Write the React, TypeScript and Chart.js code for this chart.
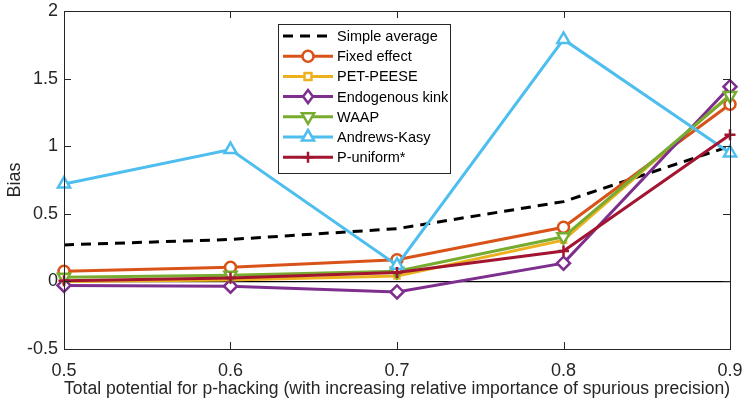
import React, { useEffect, useRef } from 'react';
import { Chart, registerables } from 'chart.js';

Chart.register(...registerables);

const xValues = [0.5, 0.6, 0.7, 0.8, 0.9];
const simpleAverage = [0.27, 0.31, 0.39, 0.59, 1.0];
const fixedEffect = [0.075, 0.105, 0.16, 0.40, 1.31];
const petPeese = [0.0, 0.01, 0.04, 0.305, 1.38];
const endogenousKink = [-0.03, -0.035, -0.078, 0.135, 1.44];
const waap = [0.03, 0.045, 0.075, 0.33, 1.375];
const andrewsKasy = [0.72, 0.975, 0.12, 1.79, 0.95];
const pUniform = [0.005, 0.025, 0.065, 0.225, 1.085];
const xTicks = [0.5, 0.6, 0.7, 0.8, 0.9];
const yTicks = [-0.5, 0, 0.5, 1, 1.5, 2];

const seriesNames = ['Simple average', 'Fixed effect', 'PET-PEESE', 'Endogenous kink', 'WAAP', 'Andrews-Kasy', 'P-uniform*'];
const seriesValues = [simpleAverage, fixedEffect, petPeese, endogenousKink, waap, andrewsKasy, pUniform];
const seriesColors = ['#000000', '#D95319', '#EDB120', '#7E2F8E', '#77AC30', '#4DBEEE', '#A2142F'];
const seriesMarkers: any[] = [false, 'circle', 'rect', 'rectRot', 'triangle', 'triangle', 'cross'];
const markerRotation = [0, 0, 0, 0, 180, 0, 0];
const markerRadius = [0, 5.5, 3.5, 6.5, 7, 7, 5.5];

const FONT = '"Liberation Sans", Arial, Helvetica, sans-serif';
const AXIS_COLOR = '#262626';

function drawMarker(ctx: CanvasRenderingContext2D, style: any, x: number, y: number, r: number, rot: number, color: string) {
  ctx.save();
  ctx.strokeStyle = color;
  ctx.fillStyle = '#ffffff';
  ctx.lineWidth = 2.5;
  ctx.setLineDash([]);
  ctx.translate(x, y);
  ctx.rotate((rot * Math.PI) / 180);
  ctx.beginPath();
  if (style === 'circle') {
    ctx.arc(0, 0, r, 0, Math.PI * 2);
    ctx.fill();
    ctx.stroke();
  } else if (style === 'rect') {
    ctx.rect(-r, -r, 2 * r, 2 * r);
    ctx.fill();
    ctx.stroke();
  } else if (style === 'rectRot') {
    ctx.moveTo(0, -r);
    ctx.lineTo(r * 0.75, 0);
    ctx.lineTo(0, r);
    ctx.lineTo(-r * 0.75, 0);
    ctx.closePath();
    ctx.fill();
    ctx.stroke();
  } else if (style === 'triangle') {
    ctx.moveTo(0, -r);
    ctx.lineTo(r * 0.87, r * 0.5);
    ctx.lineTo(-r * 0.87, r * 0.5);
    ctx.closePath();
    ctx.fill();
    ctx.stroke();
  } else if (style === 'cross') {
    ctx.moveTo(-r, 0);
    ctx.lineTo(r, 0);
    ctx.moveTo(0, -r);
    ctx.lineTo(0, r);
    ctx.stroke();
  }
  ctx.restore();
}

const framePlugin = {
  id: 'frameAndLegend',
  afterDatasetsDraw(chart: any) {
    const { ctx, chartArea, scales } = chart;
    const { left, right, top, bottom } = chartArea;
    ctx.save();
    ctx.strokeStyle = AXIS_COLOR;
    ctx.lineWidth = 1;
    const tl = 7;
    ctx.beginPath();
    xTicks.forEach((v) => {
      const px = Math.round(scales.x.getPixelForValue(v)) + 0.5;
      ctx.moveTo(px, bottom);
      ctx.lineTo(px, bottom - tl);
      ctx.moveTo(px, top);
      ctx.lineTo(px, top + tl);
    });
    yTicks.forEach((v) => {
      const py = Math.round(scales.y.getPixelForValue(v)) + 0.5;
      ctx.moveTo(left, py);
      ctx.lineTo(left + tl, py);
      ctx.moveTo(right, py);
      ctx.lineTo(right - tl, py);
    });
    ctx.stroke();
    ctx.strokeRect(Math.round(left) + 0.5, Math.round(top) + 0.5, Math.round(right - left), Math.round(bottom - top));
    ctx.restore();

    // legend
    const lx = 278;
    const ly = 24;
    const lw = 172;
    const lh = 149;
    ctx.save();
    ctx.fillStyle = '#ffffff';
    ctx.fillRect(lx, ly, lw, lh);
    ctx.strokeStyle = AXIS_COLOR;
    ctx.lineWidth = 1;
    ctx.strokeRect(lx + 0.5, ly + 0.5, lw, lh);
    ctx.font = `14.5px ${FONT}`;
    ctx.textBaseline = 'middle';
    ctx.textAlign = 'left';
    seriesNames.forEach((name, i) => {
      const cy = ly + 12 + i * 20.2;
      ctx.save();
      ctx.strokeStyle = seriesColors[i];
      ctx.lineWidth = 3;
      if (i === 0) ctx.setLineDash([10, 7]);
      ctx.beginPath();
      ctx.moveTo(lx + 5, cy);
      ctx.lineTo(lx + 55, cy);
      ctx.stroke();
      ctx.restore();
      if (seriesMarkers[i]) {
        drawMarker(ctx, seriesMarkers[i], lx + 30, cy, markerRadius[i], markerRotation[i], seriesColors[i]);
      }
      ctx.fillStyle = '#000000';
      ctx.fillText(name, lx + 59, cy + 1);
    });
    ctx.restore();
  },
};

export default function App() {
  const ref = useRef<HTMLCanvasElement | null>(null);
  useEffect(() => {
    document.body.style.margin = '0';
    if (!ref.current) return;
    const datasets = seriesNames.map((name, i) => ({
      label: name,
      data: xValues.map((x, j) => ({ x, y: seriesValues[i][j] })),
      borderColor: seriesColors[i],
      backgroundColor: '#ffffff',
      borderWidth: 3,
      borderDash: i === 0 ? [10, 7] : [],
      pointStyle: seriesMarkers[i],
      pointRadius: markerRadius[i],
      pointRotation: markerRotation[i],
      pointBorderWidth: 2.5,
      pointBorderColor: seriesColors[i],
      pointBackgroundColor: '#ffffff',
      tension: 0,
      order: 7 - i,
      clip: false as any,
    }));
    const chart = new Chart(ref.current, {
      type: 'line',
      data: { datasets },
      options: {
        animation: false,
        responsive: false,
        maintainAspectRatio: false,
        layout: { padding: { top: 11, right: 13, left: 0, bottom: 0 } },
        plugins: { legend: { display: false }, tooltip: { enabled: false } },
        scales: {
          x: {
            type: 'linear',
            min: 0.5,
            max: 0.9,
            afterBuildTicks: (s: any) => {
              s.ticks = xTicks.map((v) => ({ value: v }));
            },
            afterFit: (s: any) => {
              s.height = 51;
              s.paddingLeft = 0;
              s.paddingRight = 0;
            },
            ticks: {
              color: AXIS_COLOR,
              font: { family: FONT, size: 18 },
              padding: 11,
              maxRotation: 0,
              callback: (v: any) => String(Number(v).toFixed(1)),
            },
            grid: { display: false, drawTicks: false },
            border: { display: false },
            title: {
              display: true,
              text: 'Total potential for p-hacking (with increasing relative importance of spurious precision)',
              color: AXIS_COLOR,
              font: { family: FONT, size: 18 },
              padding: { top: 2, bottom: 0 },
            },
          },
          y: {
            min: -0.5,
            max: 2,
            afterBuildTicks: (s: any) => {
              s.ticks = yTicks.map((v) => ({ value: v }));
            },
            afterFit: (s: any) => {
              s.width = 64;
              s.paddingTop = 0;
              s.paddingBottom = 0;
            },
            ticks: {
              color: AXIS_COLOR,
              font: { family: FONT, size: 18 },
              padding: 6,
              callback: (v: any) => String(Number(v)),
            },
            grid: {
              drawTicks: false,
              color: (c: any) => (c.tick && c.tick.value === 0 ? '#000000' : 'rgba(0,0,0,0)'),
              lineWidth: 1.2,
            },
            border: { display: false },
            title: {
              display: true,
              text: 'Bias',
              color: AXIS_COLOR,
              font: { family: FONT, size: 18 },
              padding: { top: 4, bottom: 0 },
            },
          },
        },
      },
      plugins: [framePlugin],
    });
    return () => chart.destroy();
  }, []);
  return (
    <div style={{ width: 743, height: 400 }}>
      <canvas ref={ref} width={743} height={400} style={{ width: 743, height: 400, display: 'block' }} />
    </div>
  );
}
